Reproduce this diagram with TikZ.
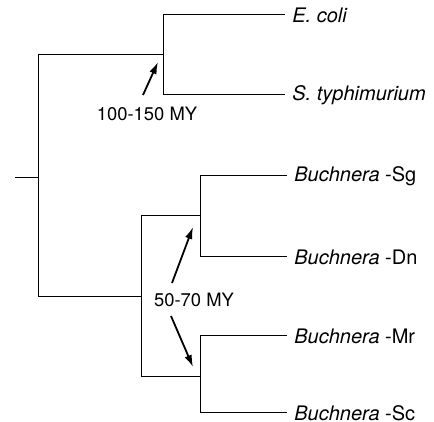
\documentclass[tikz,border=0pt]{standalone}
\usepackage{fontspec}
\setmainfont{TeX Gyre Heros}
\usetikzlibrary{arrows.meta}

\begin{document}
\begin{tikzpicture}[x=0.5pt, y=-0.5pt, >={Latex[length=6pt,width=3.8pt]},
        branch/.style={line width=0.5pt},
        leaf/.style={anchor=west, inner xsep=3.5pt, inner ysep=0pt, font=\fontsize{10}{12}\selectfont},
        age/.style={inner sep=0pt, font=\fontsize{9.2}{11}\selectfont},
        pointer/.style={->, line width=0.9pt}]
        \useasboundingbox (0,0) rectangle (434,422);
        % nodes
        \coordinate (stub) at (15,178);
        \coordinate (root) at (38,178);
        \coordinate (ent)  at (163,55);
        \coordinate (buch) at (141,297);
        \coordinate (bsd)  at (200,216);
        \coordinate (bms)  at (200,377);
        \node[leaf] (ecoli) at (285,15)  {\textit{E. coli}};
        \node[leaf] (styph) at (285,95)  {\textit{S. typhimurium}};
        \node[leaf] (sg)    at (287,176) {\textit{Buchnera} -Sg};
        \node[leaf] (dn)    at (287,257) {\textit{Buchnera} -Dn};
        \node[leaf] (mr)    at (287,336) {\textit{Buchnera} -Mr};
        \node[leaf] (sc)    at (287,413) {\textit{Buchnera} -Sc};

        % branches
        \draw[branch] (stub) -- (root);
        \draw[branch] (root) |- (ent);
        \draw[branch] (root) |- (buch);
        \draw[branch] (ent) |- (ecoli.west);
        \draw[branch] (ent) |- (styph.west);
        \draw[branch] (buch) |- (bsd);
        \draw[branch] (buch) |- (bms);
        \draw[branch] (bsd) |- (sg.west);
        \draw[branch] (bsd) |- (dn.west);
        \draw[branch] (bms) |- (mr.west);
        \draw[branch] (bms) |- (sc.west);

        % labels
        \node[age] (old)   at (147,114) {100-150 MY};
        \node[age] (young) at (194,300) {50-70 MY};
        \coordinate (s1) at (143,95);
        \coordinate (t1) at (158,62);
        \coordinate (s2) at (172,283);
        \coordinate (t2) at (193,227);
        \coordinate (s3) at (171,316);
        \coordinate (t3) at (193,367);
        \draw[pointer] (s1) -- (t1);
        \draw[pointer] (s2) -- (t2);
        \draw[pointer] (s3) -- (t3);
    \end{tikzpicture}
\end{document}
